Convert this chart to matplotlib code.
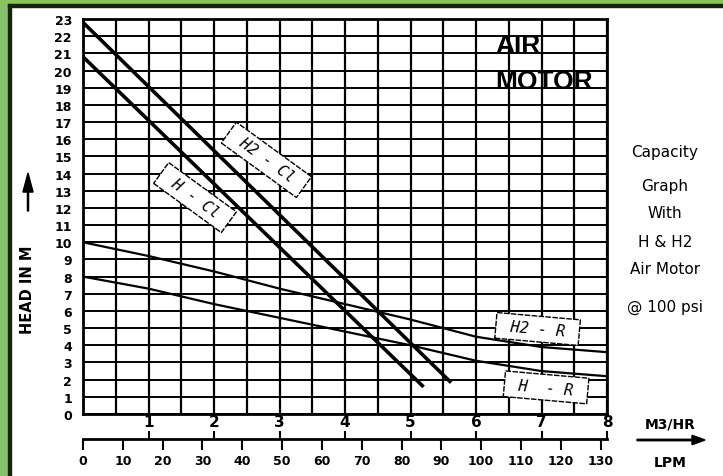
import matplotlib
matplotlib.use("Agg")
import matplotlib.pyplot as plt
import matplotlib.patches as mpatches
import numpy as np

# flow in M3/HR and head in m
flow = [0, 1, 2, 3, 4, 5, 6, 7, 8]
h2_r = [10.0, 9.2, 8.3, 7.3, 6.4, 5.5, 4.5, 3.9, 3.6]
h_r = [8.0, 7.3, 6.4, 5.6, 4.8, 4.0, 3.1, 2.5, 2.2]

cl_flow_h2 = [0, 5.6]
cl_head_h2 = [22.8, 1.9]
cl_flow_h = [0, 5.18]
cl_head_h = [20.8, 1.65]

m3_ticks = [1, 2, 3, 4, 5, 6, 7, 8]
lpm_ticks = [0, 10, 20, 30, 40, 50, 60, 70, 80, 90, 100, 110, 120, 130]
lpm_per_m3 = 16.45  # as drawn on the sheet
head_ticks = list(range(0, 24))

side_text = ["Capacity", "Graph", "With", "H & H2", "Air Motor", "@ 100 psi"]

W, H = 723, 477
fig = plt.figure(figsize=(W / 100, H / 100), dpi=100)
fig.patch.set_facecolor("white")

# green frame on left / top
fig.patches.append(mpatches.Rectangle((0, 0), 8 / W, 1, transform=fig.transFigure,
                                      color="#86c26a", zorder=0))
fig.patches.append(mpatches.Rectangle((0, 1 - 5 / H), 1, 5 / H, transform=fig.transFigure,
                                      color="#8cc45c", zorder=0))
fig.patches.append(mpatches.Rectangle((8 / W, 0), 3 / W, 1 - 5 / H, transform=fig.transFigure,
                                      color="#16240c", zorder=1))
fig.patches.append(mpatches.Rectangle((8 / W, 1 - 8 / H), 1, 3 / H, transform=fig.transFigure,
                                      color="#16240c", zorder=1))

x0, x1 = 83, 607
y0, y1 = 415, 20
ax = fig.add_axes([x0 / W, 1 - y0 / H, (x1 - x0) / W, (y0 - y1) / H])
ax.set_xlim(0, 8)
ax.set_ylim(0, 23)

# grid
for gx in np.arange(0, 8.01, 0.5):
    ax.axvline(gx, color="black", lw=1.6, zorder=1)
for gy in head_ticks:
    ax.axhline(gy, color="black", lw=1.4, zorder=1)
for s in ax.spines.values():
    s.set_linewidth(2)

ax.plot(cl_flow_h2, cl_head_h2, color="black", lw=2.6, zorder=3)
ax.plot(cl_flow_h, cl_head_h, color="black", lw=2.6, zorder=3)
ax.plot(flow, h2_r, color="black", lw=1.6, zorder=3)
ax.plot(flow, h_r, color="black", lw=1.6, zorder=3)

box = dict(boxstyle="square,pad=0.35", fc="white", ec="black", lw=1.0, ls=(0, (4, 1)))
lab_font = dict(family="DejaVu Sans Mono", style="italic", fontsize=11, zorder=4,
                ha="center", va="center")
ax.text(2.80, 14.8, " H2 - Cl ", rotation=-36, bbox=box, **lab_font)
ax.text(1.71, 12.6, " H - Cl ", rotation=-36, bbox=box, **lab_font)
ax.text(6.94, 4.95, " H2 - R ", rotation=-5, bbox=box, **lab_font)
ax.text(7.07, 1.55, " H  - R ", rotation=-5, bbox=box, **lab_font)

ax.text(6.3, 21.5, "AIR", family="Liberation Sans", weight="heavy", fontsize=19,
        ha="left", va="center", zorder=4)
ax.text(6.3, 19.4, "MOTOR", family="Liberation Sans", weight="heavy", fontsize=19,
        ha="left", va="center", zorder=4)

ax.set_xticks([])
ax.set_yticks(head_ticks)
ax.set_yticklabels([str(t) for t in head_ticks], fontsize=9, weight="bold")
ax.tick_params(axis="y", length=0, pad=8)

# bottom double scale
ay = 440
ax2 = fig.add_axes([x0 / W, 1 - ay / H, (x1 - x0) / W, 0.0001])
ax2.set_xlim(0, 8 * lpm_per_m3)
for k in ["left", "right", "top"]:
    ax2.spines[k].set_visible(False)
ax2.spines["bottom"].set_linewidth(2)
ax2.set_yticks([])
ax2.set_xticks(lpm_ticks)
ax2.set_xticklabels([str(t) for t in lpm_ticks], fontsize=9, weight="bold")
ax2.tick_params(axis="x", direction="out", length=8, width=1.5, pad=3)
sec = ax2.secondary_xaxis("top", functions=(lambda v: v / lpm_per_m3, lambda v: v * lpm_per_m3))
sec.spines["top"].set_visible(False)
sec.set_xticks(m3_ticks)
sec.set_xticklabels([str(t) for t in m3_ticks], fontsize=11, weight="bold")
sec.tick_params(axis="x", direction="out", length=6, width=1.5, pad=1)

# y label with arrow
fig.text(28 / W, 1 - 290 / H, "HEAD IN M", rotation=90, fontsize=10.5, weight="bold",
         ha="center", va="center")
fig.patches.append(mpatches.FancyArrow(28 / W, 1 - 212 / H, 0, 38 / H, width=0.0015,
                                       head_width=0.014, head_length=0.04,
                                       transform=fig.transFigure, color="black",
                                       length_includes_head=True))

# right side notes
ys = [152, 186, 214, 243, 270, 307]
for t, yy in zip(side_text, ys):
    fig.text(665 / W, 1 - yy / H, t, fontsize=11, ha="center", va="center")

fig.text(670 / W, 1 - 425 / H, "M3/HR", fontsize=10, weight="bold", ha="center", va="center")
fig.text(670 / W, 1 - 463 / H, "LPM", fontsize=10, weight="bold", ha="center", va="center")
fig.patches.append(mpatches.FancyArrow(637 / W, 1 - 441 / H, 55 / W, 0, width=0.003,
                                       head_width=0.02, head_length=0.018,
                                       transform=fig.transFigure, color="black"))

fig.savefig("out.png", dpi=100)
